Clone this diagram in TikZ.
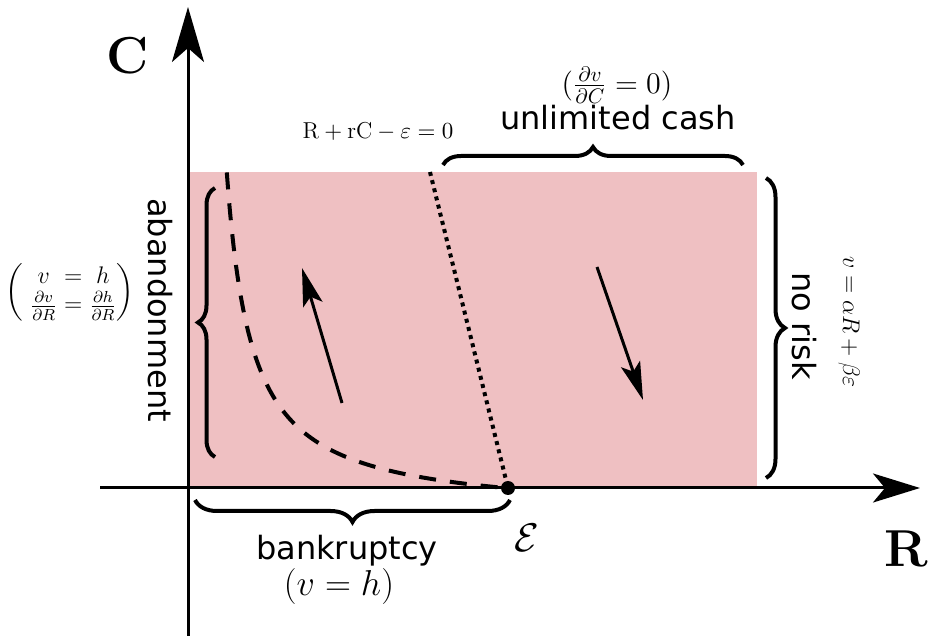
\RequirePackage{fix-cm}
\documentclass[tikz,border=0pt]{standalone}
\usepackage{amsmath}
\usepackage{fontspec}
\setsansfont{DejaVu Sans}
\usetikzlibrary{arrows.meta,decorations.pathreplacing}
\definecolor{regionpink}{RGB}{239,192,194}
\begin{document}
\begin{tikzpicture}[x=0.5pt,y=-0.5pt,
  axisline/.style={line width=1.5pt},
  brc/.style={decorate, line width=2pt, decoration={brace, amplitude=#1}},
  flowarrow/.style={line width=1.5pt, -{Stealth[length=19pt,width=10pt,inset=4pt]}},
  sanslbl/.style={font=\fontsize{16}{19}\selectfont\sffamily, inner sep=0pt},
  mathlbl/.style={inner sep=0pt}]

\useasboundingbox (0,0) rectangle (933,636);
\fill[regionpink] (189,172) rectangle (757,488);

% axes
\coordinate (xstart) at (100,488);
\coordinate (xend) at (920,488);
\coordinate (ystart) at (188,636);
\coordinate (yend) at (188,7);
\draw[axisline, -{Stealth[length=23.5pt,width=14.5pt,inset=6pt]}] (xstart) -- (xend);
\draw[axisline, -{Stealth[length=27.5pt,width=16pt,inset=7pt]}] (ystart) -- (yend);

% epsilon point and lines
\node[circle, fill, inner sep=0pt, minimum size=7pt] (eps) at (508,488) {};
\coordinate (dottop) at (430,172);
\draw[line width=2pt, dash pattern=on 2pt off 2.2pt] (dottop) -- (eps.center);
\draw[line width=2pt, dash pattern=on 8.5pt off 7pt]
  plot[domain=226.8:505, samples=120, smooth] (\x, {488-(8523/(\x-202)-28.1)});

% flow arrows
\coordinate (upfrom) at (342,403);
\coordinate (upto) at (302,268);
\coordinate (downfrom) at (597,267);
\coordinate (downto) at (643,400);
\draw[flowarrow] (upfrom) -- (upto);
\draw[flowarrow] (downfrom) -- (downto);

% braces
\coordinate (bankL) at (195,500);
\coordinate (bankR) at (510,500);
\draw[brc=11pt] (bankR) -- (bankL);
\coordinate (cashL) at (443,165);
\coordinate (cashR) at (743,165);
\draw[brc=9pt] (cashL) -- (cashR);
\coordinate (abanB) at (215,457);
\coordinate (abanT) at (215,188);
\draw[brc=8.5pt] (abanB) -- (abanT);
\coordinate (riskT) at (766,178);
\coordinate (riskB) at (766,478);
\draw[brc=9.5pt] (riskT) -- (riskB);

% labels
\node[font=\fontsize{26}{30}\selectfont\bfseries, inner sep=0pt] (clab) at (128,56) {C};
\node[font=\fontsize{26}{30}\selectfont\bfseries, inner sep=0pt] (rlab) at (906,549) {R};
\node[font=\fontsize{20}{24}\selectfont, inner sep=0pt] (epslab) at (527,538) {$\mathcal{E}$};
\node[sanslbl] (bank) at (347,551) {bankruptcy};
\node[font=\fontsize{18}{21}\selectfont, inner sep=0pt] (bankeq) at (339,587) {$(v=h)$};
\node[sanslbl] (cash) at (618,118) {unlimited cash};
\node[font=\fontsize{15}{18}\selectfont, inner sep=0pt] (casheq) at (617,85) {$(\frac{\partial v}{\partial C}=0)$};
\node[font=\fontsize{11.5}{14}\selectfont, inner sep=0pt] (linelab) at (378,131) {$\mathrm{R}+\mathrm{rC}-\varepsilon=0$};
\node[sanslbl, rotate=-90] (aban) at (160,310) {abandonment};
\node[sanslbl, rotate=-90] (risk) at (804,326) {no risk};
\node[font=\fontsize{12}{14}\selectfont, rotate=-90, inner sep=0pt] (riskeq) at (849,322) {$v=\alpha R+\beta\varepsilon$};
\node[font=\fontsize{12}{15}\selectfont, inner sep=0pt] (cond) at (70,292)
  {$\left(\begin{array}{@{\;}c@{\;}c@{\;}c@{}} v & = & h\\[-1pt] \frac{\partial v}{\partial R} & = & \frac{\partial h}{\partial R}\end{array}\right)$};
\end{tikzpicture}
\end{document}
